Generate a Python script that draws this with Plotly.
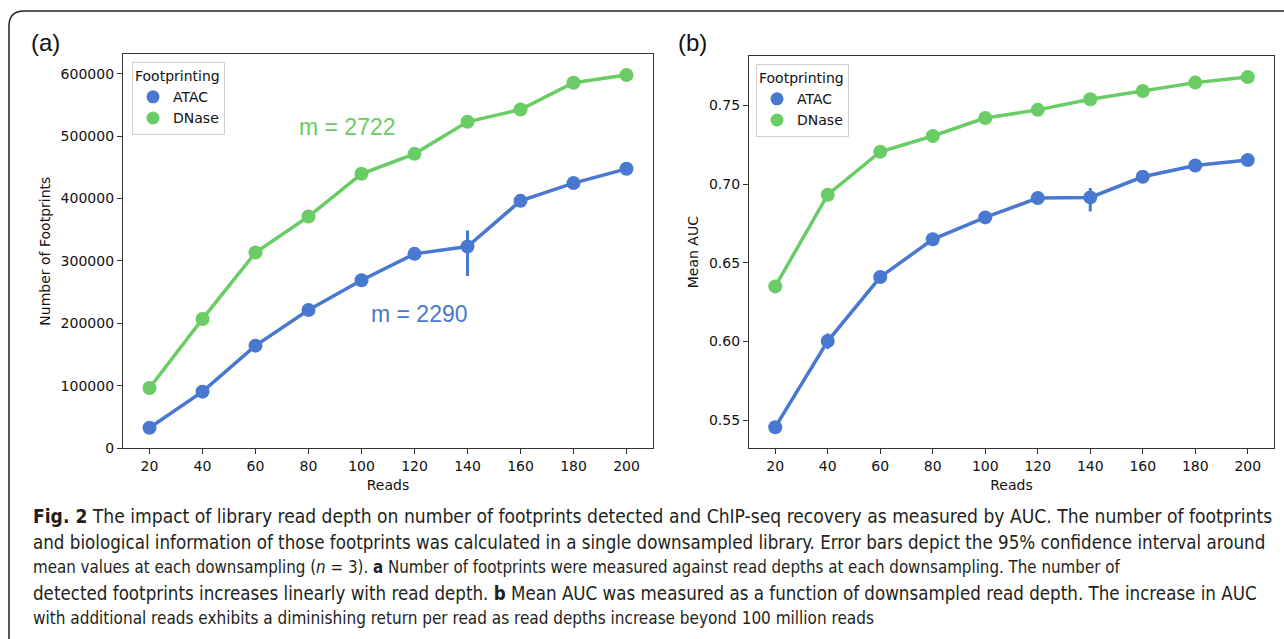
import plotly.graph_objects as go

W, H = 1284, 639

reads = ["20", "40", "60", "80", "100", "120", "140", "160", "180", "200"]

# Panel (a): number of footprints
fp_atac = [33000, 90700, 164400, 221600, 269200, 311400, 323100, 396300, 424700, 447600]
fp_atac_plus = [0, 0, 0, 0, 0, 0, 25600, 0, 0, 0]
fp_atac_minus = [0, 0, 0, 0, 0, 0, 47000, 0, 0, 0]
fp_dnase = [96600, 207200, 313500, 371200, 439600, 471600, 522900, 542600, 585400, 597800]

# Panel (b): mean AUC
auc_atac = [0.5456, 0.6003, 0.6409, 0.6649, 0.6788, 0.6911, 0.6915, 0.7046, 0.7118, 0.7152]
auc_atac_plus = [0, 0.0048, 0, 0, 0, 0, 0.0060, 0, 0, 0]
auc_atac_minus = [0, 0.0051, 0, 0, 0, 0, 0.0089, 0, 0, 0]
auc_dnase = [0.6350, 0.6932, 0.7205, 0.7305, 0.7419, 0.7471, 0.7538, 0.7591, 0.7644, 0.7679]
auc_dnase_plus = [0.0030, 0, 0, 0, 0, 0, 0, 0, 0, 0]
auc_dnase_minus = [0.0042, 0, 0, 0, 0, 0, 0, 0, 0, 0]

series_names = ["ATAC", "DNase"]
caption_lines = [
    "<b>Fig. 2</b> The impact of library read depth on number of footprints detected and ChIP-seq recovery as measured by AUC. The number of footprints",
    "and biological information of those footprints was calculated in a single downsampled library. Error bars depict the 95% confidence interval around",
    "mean values at each downsampling (<i>n</i> = 3). <b>a</b> Number of footprints were measured against read depths at each downsampling. The number of",
    "detected footprints increases linearly with read depth. <b>b</b> Mean AUC was measured as a function of downsampled read depth. The increase in AUC",
    "with additional reads exhibits a diminishing return per read as read depths increase beyond 100 million reads",
]

BLUE = "#4878d0"
GREEN = "#6acc64"
TICKFONT = dict(family="DejaVu Sans", size=14, color="#111111")

def px_x(p):
    return p / W

def px_y(p):
    return 1 - p / H

fig = go.Figure()

def add_series(x, y, color, xa, ya, plus=None, minus=None):
    err = None
    if plus is not None:
        err = dict(type="data", symmetric=False, array=plus, arrayminus=minus,
                   color=color, thickness=3, width=0)
    fig.add_trace(go.Scatter(
        x=x, y=y, mode="lines+markers", xaxis=xa, yaxis=ya,
        line=dict(color=color, width=3.5),
        marker=dict(color=color, size=14),
        error_y=err, showlegend=False, hoverinfo="skip"))

add_series(reads, fp_atac, BLUE, "x", "y", fp_atac_plus, fp_atac_minus)
add_series(reads, fp_dnase, GREEN, "x", "y")
add_series(reads, auc_atac, BLUE, "x2", "y2", auc_atac_plus, auc_atac_minus)
add_series(reads, auc_dnase, GREEN, "x2", "y2", auc_dnase_plus, auc_dnase_minus)

# legend-only entries
for lg in ["legend", "legend2"]:
    for name, col in zip(series_names, [BLUE, GREEN]):
        fig.add_trace(go.Scatter(x=[None], y=[None], mode="markers", name=name,
                                 marker=dict(color=col, size=13),
                                 legend=lg, xaxis="x", yaxis="y"))

axis_common = dict(showline=True, linecolor="#333333", linewidth=1.3, mirror=True,
                   ticks="outside", ticklen=5, tickcolor="#333333", tickwidth=1.2,
                   showgrid=False, zeroline=False, tickfont=TICKFONT, automargin=False)

TITLEFONT = dict(family="DejaVu Sans", size=14, color="#111111")

fig.update_layout(
    width=W, height=H,
    margin=dict(l=0, r=0, t=0, b=0, autoexpand=False),
    paper_bgcolor="white", plot_bgcolor="white",
    xaxis=dict(domain=[px_x(123), px_x(653)], type="category", range=[-0.5, 9.5],
               anchor="y",
               title=dict(text="Reads", font=TITLEFONT, standoff=6),
               **axis_common),
    yaxis=dict(domain=[px_y(448.3), px_y(54)], range=[0, 631500], anchor="x",
               tickvals=[0, 100000, 200000, 300000, 400000, 500000, 600000],
               ticktext=["0", "100000", "200000", "300000", "400000", "500000", "600000"],
               title=dict(text="Number of Footprints", font=TITLEFONT, standoff=6),
               **axis_common),
    xaxis2=dict(domain=[px_x(749), px_x(1274)], type="category", range=[-0.5, 9.5],
                anchor="y2",
                title=dict(text="Reads", font=TITLEFONT, standoff=6),
                **axis_common),
    yaxis2=dict(domain=[px_y(448.3), px_y(56)], range=[0.5322, 0.7813], anchor="x2",
                tickvals=[0.55, 0.60, 0.65, 0.70, 0.75],
                ticktext=["0.55", "0.60", "0.65", "0.70", "0.75"],
                title=dict(text="Mean AUC", font=TITLEFONT, standoff=6),
                **axis_common),
    legend=dict(title=dict(text="Footprinting", font=TITLEFONT),
                font=TITLEFONT,
                x=px_x(132), y=px_y(62), xanchor="left", yanchor="top",
                bgcolor="rgba(255,255,255,0.8)", bordercolor="#d0d0d0", borderwidth=1),
    legend2=dict(title=dict(text="Footprinting", font=TITLEFONT),
                 font=TITLEFONT,
                 x=px_x(756), y=px_y(64), xanchor="left", yanchor="top",
                 bgcolor="rgba(255,255,255,0.8)", bordercolor="#d0d0d0", borderwidth=1),
)

annos = []
annos.append(dict(text="(a)", x=px_x(29), y=px_y(43), xref="paper", yref="paper",
                  xanchor="left", yanchor="middle", showarrow=False,
                  font=dict(family="Liberation Sans", size=24, color="#111111")))
annos.append(dict(text="(b)", x=px_x(676), y=px_y(43), xref="paper", yref="paper",
                  xanchor="left", yanchor="middle", showarrow=False,
                  font=dict(family="Liberation Sans", size=24, color="#111111")))
annos.append(dict(text="m = 2722", x=px_x(348), y=px_y(127), xref="paper", yref="paper",
                  xanchor="center", yanchor="middle", showarrow=False,
                  font=dict(family="Liberation Sans", size=23, color=GREEN)))
annos.append(dict(text="m = 2290", x=px_x(419), y=px_y(314), xref="paper", yref="paper",
                  xanchor="center", yanchor="middle", showarrow=False,
                  font=dict(family="Liberation Sans", size=23, color=BLUE)))
line_y = [516, 542, 567, 593, 618]
line_size = [19.1, 18.6, 16.8, 18.6, 17.0]
for txt, yy, sz in zip(caption_lines, line_y, line_size):
    annos.append(dict(text=txt, x=px_x(31), y=px_y(yy), xref="paper", yref="paper",
                      xanchor="left", yanchor="middle", showarrow=False,
                      font=dict(family="Liberation Sans Narrow, DejaVu Sans Condensed, sans-serif",
                                size=sz, color="#231f20")))
fig.update_layout(annotations=annos)

# outer rounded frame
x0, y0, r = 9, 11, 15
path = (f"M {px_x(1300)} {px_y(y0)} L {px_x(x0 + r)} {px_y(y0)} "
        f"Q {px_x(x0)} {px_y(y0)} {px_x(x0)} {px_y(y0 + r)} "
        f"L {px_x(x0)} {px_y(660)}")
fig.add_shape(type="path", path=path, xref="paper", yref="paper",
              line=dict(color="#231f20", width=1.5))

fig.write_html("out.html")
